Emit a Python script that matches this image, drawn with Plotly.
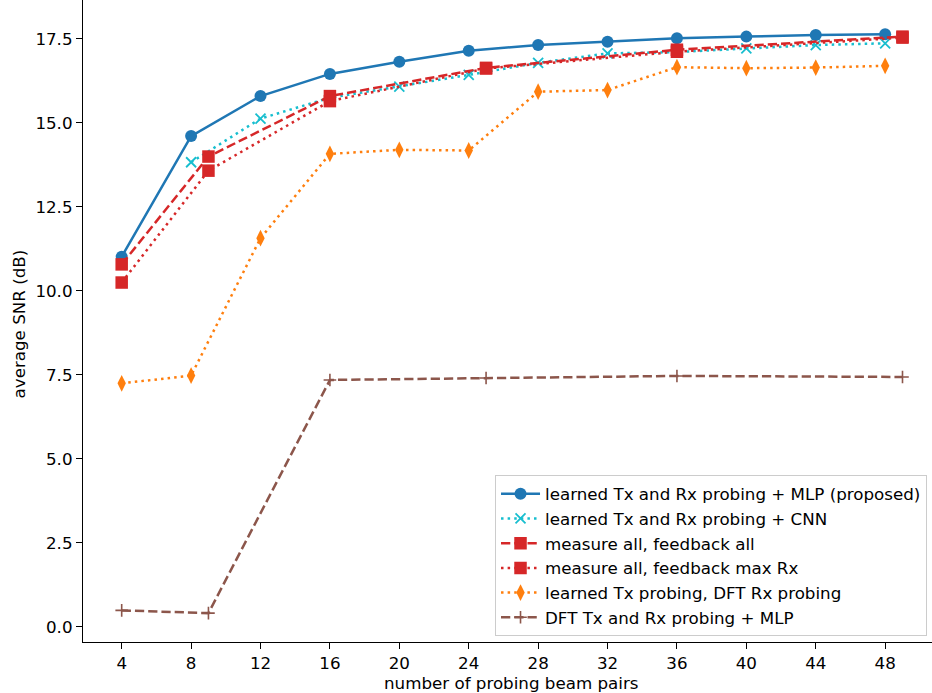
import plotly.graph_objects as go

x_learned = [4, 8, 12, 16, 20, 24, 28, 32, 36, 40, 44, 48]
x_cnn = [8, 12, 16, 20, 24, 28, 32, 36, 40, 44, 48]
x_square = [4, 9, 16, 25, 36, 49]

snr_mlp = [11.02, 14.61, 15.80, 16.46, 16.82, 17.15, 17.32, 17.42, 17.52, 17.57, 17.62, 17.64]
snr_cnn = [13.83, 15.13, 15.75, 16.08, 16.43, 16.79, 17.07, 17.11, 17.22, 17.32, 17.37]
snr_fb_all = [10.79, 14.00, 15.80, 16.64, 17.18, 17.57]
snr_fb_max = [10.25, 13.58, 15.65, 16.62, 17.12, 17.54]
snr_dft_rx = [7.25, 7.48, 11.57, 14.08, 14.20, 14.18, 15.93, 15.98, 16.66, 16.63, 16.65, 16.70]
snr_dft_all = [0.49, 0.41, 7.35, 7.41, 7.47, 7.44]

names = [
    "learned Tx and Rx probing + MLP (proposed)",
    "learned Tx and Rx probing + CNN",
    "measure all, feedback all",
    "measure all, feedback max Rx",
    "learned Tx probing, DFT Rx probing",
    "DFT Tx and Rx probing + MLP",
]
x_ticks = [4, 8, 12, 16, 20, 24, 28, 32, 36, 40, 44, 48]
y_ticks = [0.0, 2.5, 5.0, 7.5, 10.0, 12.5, 15.0, 17.5]

LW = 2.5
DASH = "9.25px,4px"
DOT = "2.5px,4.1px"
FONT = "DejaVu Sans"
FS = 16.7

fig = go.Figure()
fig.add_trace(go.Scatter(x=x_learned, y=snr_mlp, name=names[0], mode="lines+markers",
                         line=dict(color="#1f77b4", width=LW),
                         marker=dict(symbol="circle", size=12, color="#1f77b4")))
fig.add_trace(go.Scatter(x=x_cnn, y=snr_cnn, name=names[1], mode="lines+markers",
                         line=dict(color="#17becf", width=LW, dash=DOT),
                         marker=dict(symbol="x-thin", size=10, color="#17becf",
                                     line=dict(color="#17becf", width=1.8))))
fig.add_trace(go.Scatter(x=x_square, y=snr_fb_all, name=names[2], mode="lines+markers",
                         line=dict(color="#d62728", width=LW, dash=DASH),
                         marker=dict(symbol="square", size=12.5, color="#d62728")))
fig.add_trace(go.Scatter(x=x_square, y=snr_fb_max, name=names[3], mode="lines+markers",
                         line=dict(color="#d62728", width=LW, dash=DOT),
                         marker=dict(symbol="square", size=12.5, color="#d62728")))
fig.add_trace(go.Scatter(x=x_learned, y=snr_dft_rx, name=names[4], mode="lines+markers",
                         line=dict(color="#ff7f0e", width=LW, dash=DOT),
                         marker=dict(symbol="diamond-tall", size=12, color="#ff7f0e")))
fig.add_trace(go.Scatter(x=x_square, y=snr_dft_all, name=names[5], mode="lines+markers",
                         line=dict(color="#8c564b", width=LW, dash=DASH),
                         marker=dict(symbol="cross-thin", size=9, color="#8c564b",
                                     line=dict(color="#8c564b", width=1.6))))

axis_common = dict(showgrid=False, zeroline=False, showline=True, linecolor="black",
                   linewidth=1.2, ticks="outside", ticklen=6, tickwidth=1.2,
                   tickcolor="black", tickfont=dict(family=FONT, size=FS, color="black"))

fig.update_layout(
    width=932, height=693,
    margin=dict(l=83, r=0, t=0, b=51),
    plot_bgcolor="white", paper_bgcolor="white",
    font=dict(family=FONT, size=FS, color="black"),
    xaxis=dict(range=[1.77, 50.70], tickvals=x_ticks, ticktext=[str(v) for v in x_ticks],
               **axis_common),
    yaxis=dict(range=[-0.45, 18.66], tickvals=y_ticks,
               ticktext=["%.1f" % v for v in y_ticks], **axis_common),
    legend=dict(x=0.4853, y=0.2595, xanchor="left", yanchor="top",
                bgcolor="rgba(255,255,255,0.8)", bordercolor="#cccccc", borderwidth=1,
                font=dict(family=FONT, size=FS, color="black"), itemwidth=39,
                tracegroupgap=0),
    showlegend=True,
    annotations=[
        dict(text="number of probing beam pairs", xref="paper", yref="paper",
             x=0.5047, y=-0.0638, xanchor="center", yanchor="middle", showarrow=False,
             font=dict(family=FONT, size=FS, color="black")),
        dict(text="average SNR (dB)", xref="paper", yref="paper",
             x=-0.0754, y=0.4962, xanchor="center", yanchor="middle", showarrow=False,
             textangle=-90, font=dict(family=FONT, size=FS, color="black")),
    ],
)

fig.write_html("out.html")
